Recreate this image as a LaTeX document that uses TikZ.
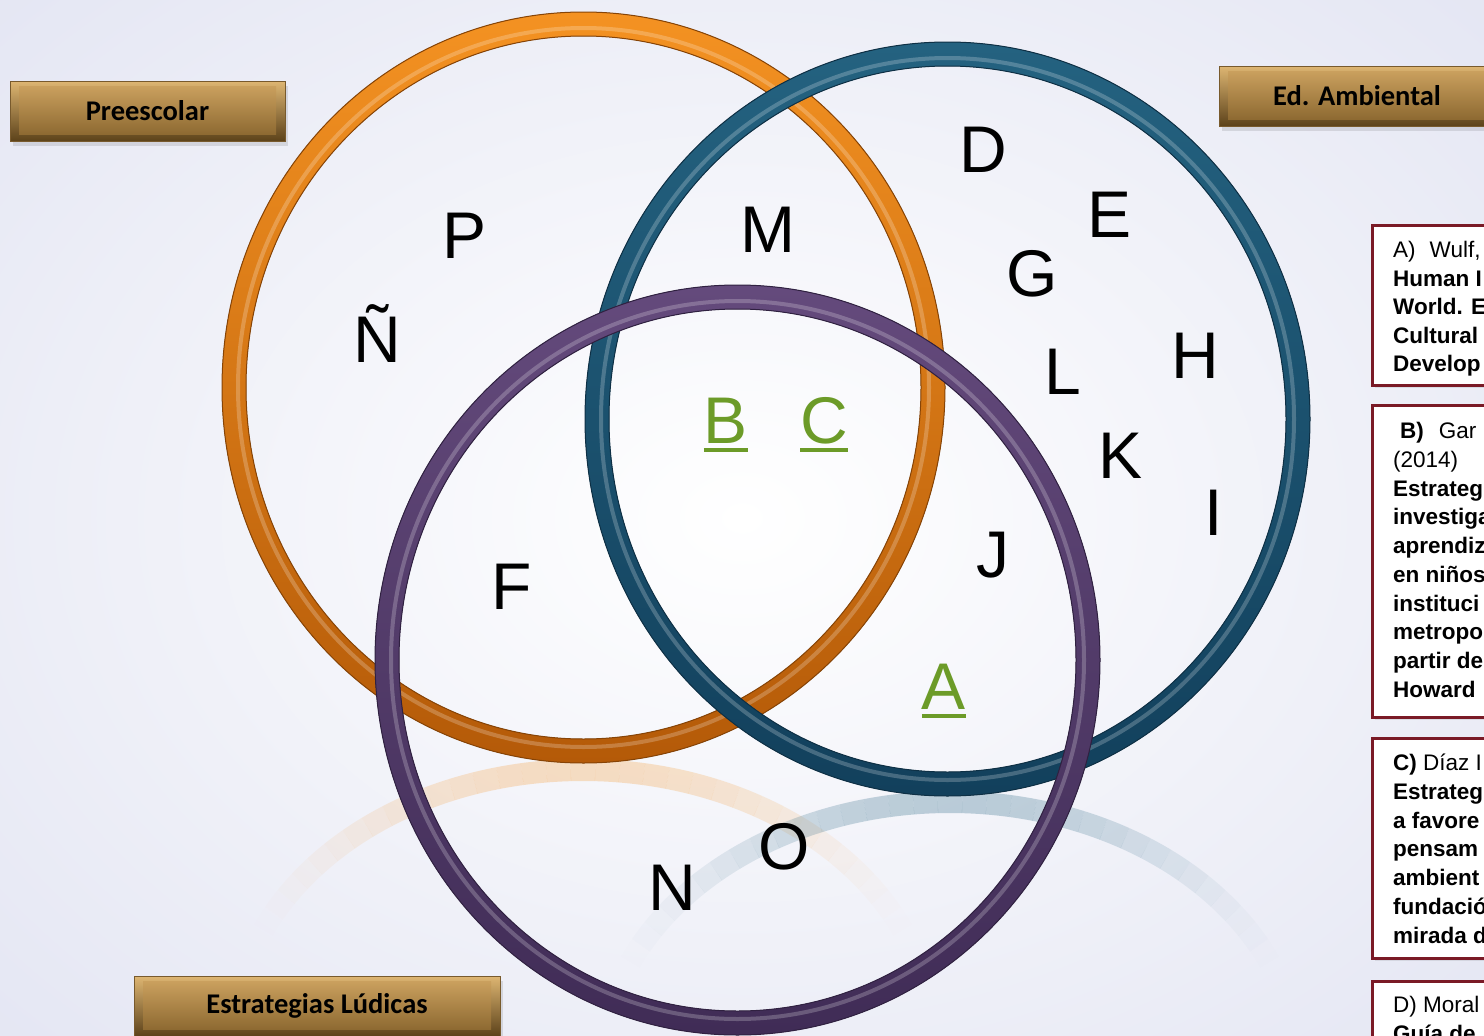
\documentclass[tikz,border=0pt]{standalone}
\usepackage{fontspec}
\setmainfont{Liberation Sans}
\newfontfamily\btnfont{Carlito}
\definecolor{bgout}{RGB}{228,230,243}
\definecolor{orT}{RGB}{244,146,34}
\definecolor{orB}{RGB}{180,90,8}
\definecolor{blT}{RGB}{36,98,128}
\definecolor{blB}{RGB}{18,64,92}
\definecolor{puT}{RGB}{100,74,124}
\definecolor{puB}{RGB}{64,44,86}
\definecolor{btnA}{RGB}{222,182,114}
\definecolor{btnD}{RGB}{92,66,26}
\definecolor{btnB}{RGB}{202,160,94}
\definecolor{btnC}{RGB}{142,106,50}
\definecolor{btnE}{RGB}{120,90,45}
\definecolor{boxred}{RGB}{122,26,38}
\definecolor{lgreen}{RGB}{108,155,40}
\newcommand\vennring[6]{%
  \fill[even odd rule, top color=#5, bottom color=#6]
    (#1,#2) ellipse[x radius=#3+12, y radius=#4+12]
    (#1,#2) ellipse[x radius=#3-12, y radius=#4-12];
  \draw[#6!75!black, line width=1] (#1,#2) ellipse[x radius=#3+12, y radius=#4+12];
  \draw[#6!75!black, line width=1] (#1,#2) ellipse[x radius=#3-12, y radius=#4-12];
  \draw[white, opacity=0.22, line width=4] (#1,#2) ellipse[x radius=#3-4, y radius=#4-4];
}
\newcommand\reflectarc[4]{% cx cy colour maxopacity
  \foreach \i in {0,...,34} {
    \pgfmathsetmacro\aa{200+4*\i}
    \pgfmathsetmacro\op{#4*(sin((\i+0.5)/35*180))^2}
    \draw[line width=22, draw=#3, draw opacity=\op]
      ({#1+350*cos(\aa)},{#2+270*sin(\aa)}) arc[start angle=\aa, delta angle=4, x radius=350, y radius=270];
  }
}
\newcommand\bronzebtn[6]{%
  \fill[black, opacity=0.10] (#2+3,#3+5) rectangle (#4+3,#5+5);
  \fill[top color=btnA, bottom color=btnD] (#2,#3) rectangle (#4,#5);
  \fill[top color=btnB, bottom color=btnC] (#2+9,#3+5) rectangle (#4-9,#5-7);
  \draw[btnE, line width=0.8] (#2,#3) rectangle (#4,#5);
  \node[btntext] (#1) at ({(#2+#4)/2},{(#3+#5)/2}) {#6};
}
\newcommand\refframe[3]{%
  \fill[black, opacity=0.08] (1375,#2+3) rectangle (1510,#3+3);
  \draw[boxred, line width=3, fill=white] (1372,#2) rectangle (1510,#3);
  \coordinate (#1) at (1372,#2);
}
\newcommand\ulin[1]{\setbox0\hbox{#1}\rlap{\rule[-9pt]{\wd0}{4pt}}\box0}
\begin{document}
\begin{tikzpicture}[x=1pt,y=-1pt,
  big/.style={anchor=base, inner sep=0pt, font=\fontsize{66}{66}\selectfont, text=black},
  biggreen/.style={big, text=lgreen},
  btntext/.style={font=\btnfont\bfseries\fontsize{28.5}{28.5}\selectfont, text=black},
  reft/.style={anchor=base west, inner sep=0pt, font=\fontsize{22.5}{22.5}\selectfont, text=black},
  refb/.style={reft, font=\fontsize{22.5}{22.5}\selectfont\bfseries}]
\useasboundingbox (0,0) rectangle (1484,1036);
\clip (0,0) rectangle (1484,1036);
\fill[inner color=white, outer color=bgout] (-300,-250) rectangle (1784,1286);
% reflections
\reflectarc{583}{1040}{orT}{0.26}
\reflectarc{950}{1072}{blT}{0.28}
% rings
\vennring{583.5}{387.5}{349.5}{363.5}{orT}{orB}
\vennring{947.5}{419}{350.5}{365}{blT}{blB}
\vennring{737.5}{660}{350.5}{363}{puT}{puB}
% letters
\node[big] (lD) at (983,172) {D};
\node[big] (lE) at (1110,237) {E};
\node[big] (lM) at (768,252) {M};
\node[big] (lP) at (465,258) {P};
\node[big] (lG) at (1032,296) {G};
\node[big] (lNt) at (377,362) {Ñ};
\node[big] (lH) at (1195,378) {H};
\node[big] (lL) at (1063,394) {L};
\node[biggreen] (lB) at (726,443) {\ulin{B}};
\node[biggreen] (lC) at (824,443) {\ulin{C}};
\node[big] (lK) at (1120,478) {K};
\node[big] (lI) at (1214,535) {I};
\node[big] (lJ) at (993,577) {J};
\node[big] (lF) at (512,609) {F};
\node[biggreen] (lA) at (944,709) {\ulin{A}};
\node[big] (lO) at (784,869) {O};
\node[big] (lN) at (672,910) {N};
% buttons
\bronzebtn{pre}{10}{81}{285}{141}{Preescolar}
\bronzebtn{amb}{1219}{66}{1495}{126}{Ed. Ambiental}
\bronzebtn{lud}{134}{976}{500}{1036}{Estrategias Lúdicas}
% reference boxes
\refframe{boxA}{225}{385}
\node[reft] (a1) at (1393,257) {A)\hspace{14pt}Wulf,};
\node[refb] (a2) at (1393,286) {Human I};
\node[refb] (a3) at (1393,314) {World. E};
\node[refb] (a4) at (1393,343) {Cultural};
\node[refb] (a5) at (1393,371) {Develop};
\refframe{boxB}{405}{717}
\node[reft] (b1) at (1400,438) {\textbf{B)}\hspace{15pt}Gar};
\node[reft] (b2) at (1393,467) {(2014)};
\node[refb] (b3) at (1393,496) {Estrateg};
\node[refb] (b4) at (1393,524) {investiga};
\node[refb] (b5) at (1393,553) {aprendiz};
\node[refb] (b6) at (1393,582) {en niños};
\node[refb] (b7) at (1393,611) {instituci};
\node[refb] (b8) at (1393,639) {metropo};
\node[refb] (b9) at (1393,668) {partir de};
\node[refb] (b10) at (1393,697) {Howard};
\refframe{boxC}{738}{958}
\node[reft] (c1) at (1393,770) {\textbf{C)} Díaz I};
\node[refb] (c2) at (1393,799) {Estrateg};
\node[refb] (c3) at (1393,828) {a favore};
\node[refb] (c4) at (1393,856) {pensam};
\node[refb] (c5) at (1393,885) {ambient};
\node[refb] (c6) at (1393,914) {fundació};
\node[refb] (c7) at (1393,943) {mirada d};
\refframe{boxD}{981}{1100}
\node[reft] (d1) at (1393,1012) {D) Moral};
\node[refb] (d2) at (1393,1041) {Guía de};
\end{tikzpicture}
\end{document}
